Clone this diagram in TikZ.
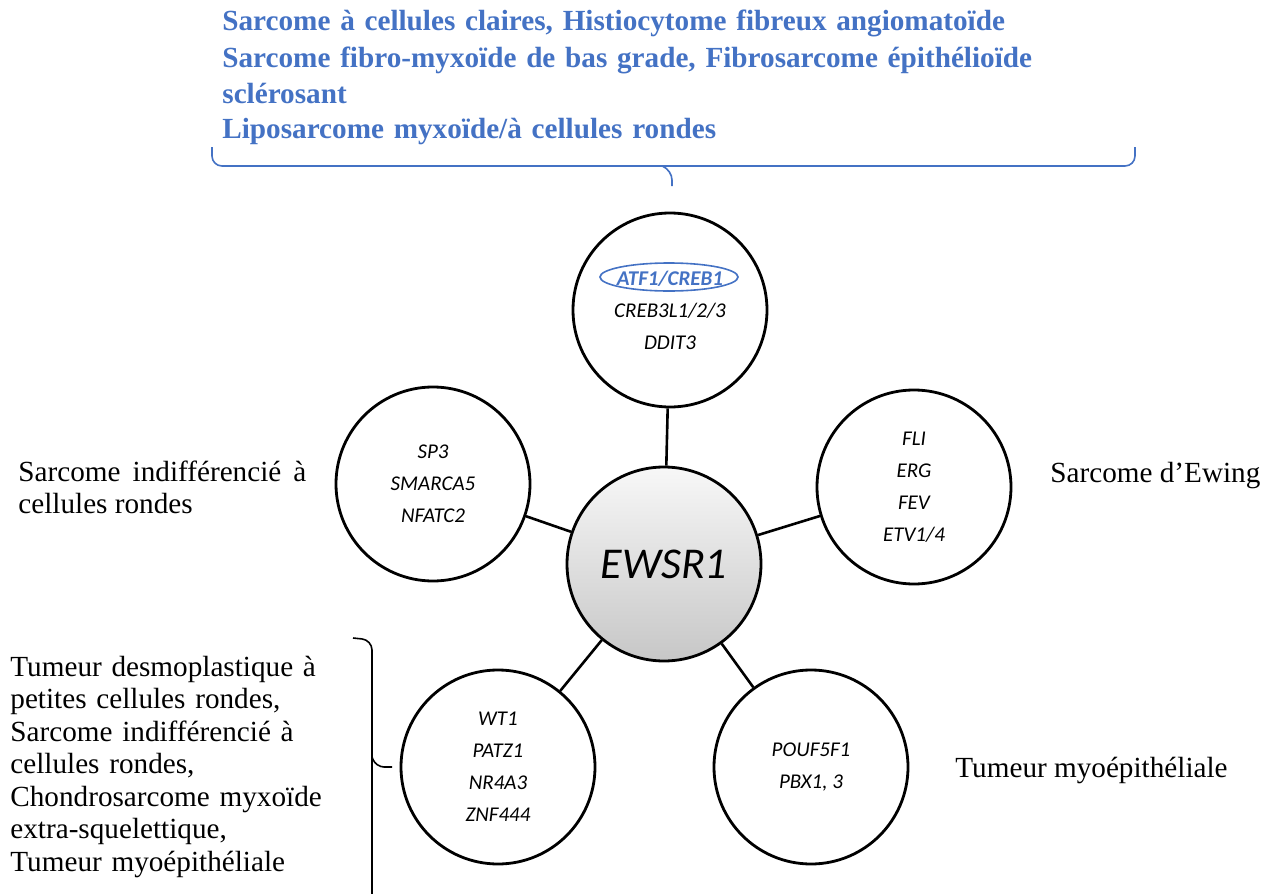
\documentclass[tikz,border=0pt]{standalone}
\usepackage{fontspec}
\setmainfont{Liberation Serif}
\newfontfamily\genefont{Carlito}
\usetikzlibrary{shapes.geometric}

\definecolor{titleblue}{RGB}{68,114,196}

\begin{document}
\begin{tikzpicture}[x=0.5pt,y=-0.5pt,
    gene/.style={circle,draw,line width=1.4pt,minimum size=97pt,inner sep=0pt,align=center,
      font=\genefont\itshape\fontsize{10.5}{16}\selectfont},
    link/.style={line width=1.3pt},
    disease/.style={inner sep=0pt,anchor=base west,font=\fontsize{14.6}{16.25}\selectfont}]
  \useasboundingbox (0,0) rectangle (1270,894);

  % circles
  \node[gene,top color=black!3,bottom color=black!22,font=\genefont\itshape\fontsize{22}{26}\selectfont] (ewsr) at (664,564) {EWSR1};
  \node[gene] (atf) at (670,310) {{\color{titleblue}\bfseries ATF1/CREB1}\\CREB3L1/2/3\\DDIT3};
  \node[gene] (sp) at (433,484) {SP3\\SMARCA5\\NFATC2};
  \node[gene] (fli) at (914,487) {FLI\\ERG\\FEV\\ETV1/4};
  \node[gene] (wt) at (498,767) {WT1\\PATZ1\\NR4A3\\ZNF444};
  \node[gene] (pou) at (811,767) {POUF5F1\\PBX1, 3};
  \node[ellipse,draw=titleblue,line width=0.8pt,minimum width=69pt,minimum height=14pt] (atfring) at (669,277) {};

  \draw[link] (ewsr) -- (atf);
  \draw[link] (ewsr) -- (sp);
  \draw[link] (ewsr) -- (fli);
  \draw[link] (ewsr) -- (wt);
  \draw[link] (ewsr) -- (pou);

  % tumour names
  \node[disease,text width=144pt,align=justify] (undiff) at (18,481) {Sarcome indifférencié à cellules rondes};
  \node[disease] (ewing) at (1050,482) {Sarcome d’Ewing};
  \node[disease] (myo) at (955,777) {Tumeur myoépithéliale};
  \node[disease,text width=165pt,align=left] (desmo) at (10,676) {Tumeur desmoplastique à\\petites cellules rondes,\\Sarcome indifférencié à\\cellules rondes,\\Chondrosarcome myxoïde\\extra-squelettique,\\Tumeur myoépithéliale};
  \node[disease,text width=420pt,align=left,text=titleblue,font=\bfseries\fontsize{14.6}{18}\selectfont] (creb) at (222,31) {Sarcome à cellules claires, Histiocytome fibreux angiomatoïde\\Sarcome fibro-myxoïde de bas grade, Fibrosarcome épithélioïde\\sclérosant\\Liposarcome myxoïde/à cellules rondes};

  % braces
  \coordinate (topl) at (212,147);
  \coordinate (topm) at (672,186);
  \coordinate (topr) at (1135,147);
  \draw[titleblue,line width=0.8pt,rounded corners=5pt] (topl) |- (672,166) -| (topr);
  \draw[titleblue,line width=0.8pt,rounded corners=5pt] (662,166) -- (672,170) -- (topm);
  \coordinate (bra) at (353,638);
  \coordinate (brb) at (392,767);
  \draw[line width=0.8pt,rounded corners=5pt] (bra) -- (372,640) -- (372,894);
  \draw[line width=0.8pt,rounded corners=4pt] (372,757) -- (376,767) -- (brb);
\end{tikzpicture}
\end{document}
